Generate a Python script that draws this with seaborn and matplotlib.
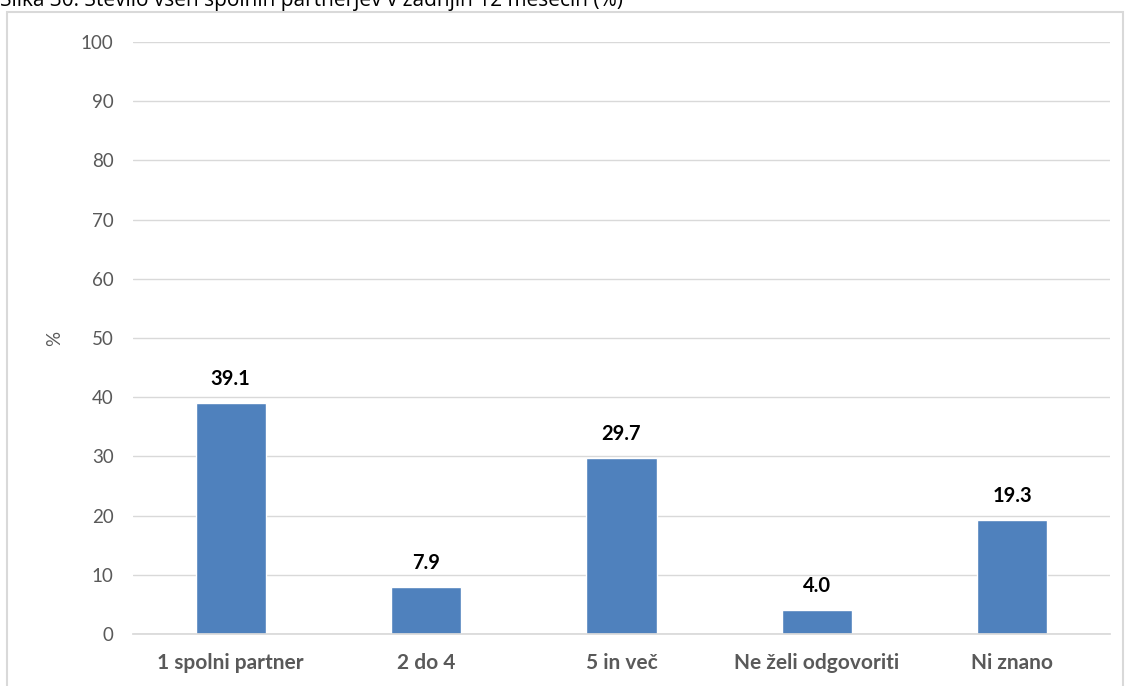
import matplotlib
matplotlib.use("Agg")
import matplotlib.pyplot as plt
import seaborn as sns
import pandas as pd
from matplotlib.patches import Rectangle

categories = ["1 spolni partner", "2 do 4", "5 in več", "Ne želi odgovoriti", "Ni znano"]
values = [39.1, 7.9, 29.7, 4.0, 19.3]
yticks = [0, 10, 20, 30, 40, 50, 60, 70, 80, 90, 100]
title = "Slika 30: Število vseh spolnih partnerjev v zadnjih 12 mesecih (%)"

sns.set_theme(style="white")
plt.rcParams['font.family'] = ['Lato', 'DejaVu Sans']

df = pd.DataFrame({"cat": categories, "val": values})

fig = plt.figure(figsize=(11.25, 6.86), dpi=100)
ax = fig.add_axes([133/1125, 1-634/686, (1110-133)/1125, (634-42)/686])

sns.barplot(data=df, x="cat", y="val", color="#4f81bd", width=0.36, ax=ax, saturation=1)

ax.set_ylim(0, 100)
ax.set_yticks(yticks)
ax.set_yticklabels([str(t) for t in yticks], fontsize=13.5, color="#595959")
ax.set_xlabel("")
ax.set_ylabel("%", fontsize=13.5, color="#595959")
ax.yaxis.set_label_coords((63-133)/977, 0.5)
ax.yaxis.grid(True, color="#d9d9d9", linewidth=1)
ax.set_axisbelow(True)
for s in ["top", "right", "left"]:
    ax.spines[s].set_visible(False)
ax.spines["bottom"].set_color("#d9d9d9")
ax.tick_params(axis="both", length=0)
ax.tick_params(axis="y", pad=14)
ax.tick_params(axis="x", pad=14)
for lbl in ax.get_xticklabels():
    lbl.set_fontweight("bold")
    lbl.set_color("#595959")
    lbl.set_fontsize(15)

for i, v in enumerate(values):
    ax.annotate(f"{v:.1f}", (i, v), xytext=(0, 10), textcoords="offset points",
                ha="center", va="bottom", fontsize=14.5, fontweight="bold", color="#000000")

fig.patches.append(Rectangle((7/1125, -0.05), (1123-7)/1125, 1.05 - 12/686,
                             transform=fig.transFigure, fill=False,
                             edgecolor="#d9d9d9", linewidth=1.5))
fig.text(0.0, 1 + 2/686, title, ha="left", va="center", fontsize=15, color="#000000",
         family=['Open Sans', 'DejaVu Sans'])

fig.savefig("out.png", dpi=100)
